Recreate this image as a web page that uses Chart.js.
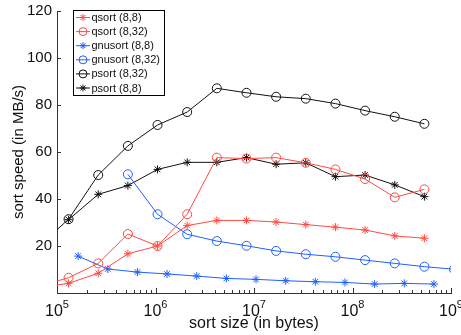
<!DOCTYPE html>
<html lang="en">
<head>
    <meta charset="UTF-8">
    <title>sort speed vs sort size</title>
    <script src="https://cdn.jsdelivr.net/npm/chart.js@4.4.1/dist/chart.umd.min.js"></script>
    <style>
        html, body { margin: 0; padding: 0; background: #fff; }
        #wrap { width: 461px; height: 335px; }
    </style>
</head>
<body>
    <div id="wrap"><canvas id="sortChart" width="461" height="335"></canvas></div>

    <script>
        // sizes are powers of two, 2^16 .. 2^30 (the ends fall outside the axis and get clipped)
        const sizes = [65536, 131072, 262144, 524288, 1048576, 2097152, 4194304, 8388608,
                       16777216, 33554432, 67108864, 134217728, 268435456, 536870912, 1073741824];
        // gnusort (8,8) was run at 10 * 2^14 .. 10 * 2^26
        const gnuSizes = [163840, 327680, 655360, 1310720, 2621440, 5242880, 10485760, 20971520,
                          41943040, 83886080, 167772160, 335544320, 671088640];

        const qsort88     = [2.3, 4.1, 8.4, 16.7, 20.0, 28.7, 30.9, 30.9, 30.2, 29.1, 28.0, 26.8, 24.3, 23.3, null];
        const qsort832    = [2.9, 6.5, 12.6, 25.1, 20.0, 33.5, 57.6, 57.2, 57.6, 55.4, 52.6, 48.5, 40.7, 44.1, null];
        const gnusort88   = [15.7, 10.2, 8.9, 8.1, 7.2, 6.2, 5.8, 5.2, 4.8, 4.5, 3.8, 4.1, 3.8];
        const gnusort832  = [null, null, null, 50.5, 33.5, 25.0, 22.1, 20.1, 17.9, 16.5, 15.4, 14.0, 12.6, 11.2, 10.1];
        const psort832    = [20.0, 31.4, 50.2, 62.6, 71.5, 77.0, 87.1, 85.2, 83.5, 82.7, 80.6, 77.6, 75.0, 72.0, null];
        const psort88     = [null, 31.2, 42.0, 45.7, 52.6, 55.6, 55.6, 57.6, 54.8, 55.4, 49.5, 50.2, 46.0, 41.0, null];

        const xDecades = [1e5, 1e6, 1e7, 1e8, 1e9];
        const yTicks = [0, 20, 40, 60, 80, 100, 120];

        const RED = '#ff4a42';
        const BLUE = '#1f5fff';
        const BLACK = '#111';
        const FONT = '"Liberation Sans", Arial, Helvetica, sans-serif';

        function pts(xs, ys) {
            return xs.map((x, i) => ({ x: x, y: ys[i] })).filter(p => p.y !== null && p.y !== undefined);
        }

        function series(label, xs, ys, color, style) {
            return {
                label: label,
                data: pts(xs, ys),
                showLine: true,
                borderColor: color,
                borderWidth: 1,
                pointStyle: style,
                pointRadius: style === 'circle' ? 4.5 : 4,
                pointBorderColor: color,
                pointBackgroundColor: 'rgba(0,0,0,0)',
                pointBorderWidth: 1,
                clip: 0
            };
        }

        const datasets = [
            series('qsort (8,8)', sizes, qsort88, RED, 'star'),
            series('qsort (8,32)', sizes, qsort832, RED, 'circle'),
            series('gnusort (8,8)', gnuSizes, gnusort88, BLUE, 'star'),
            series('gnusort (8,32)', sizes, gnusort832, BLUE, 'circle'),
            series('psort (8,32)', sizes, psort832, BLACK, 'circle'),
            series('psort (8,8)', sizes, psort88, BLACK, 'star')
        ];

        function drawMarker(ctx, style, x, y, r) {
            ctx.beginPath();
            if (style === 'circle') {
                ctx.arc(x, y, r, 0, Math.PI * 2);
            } else {
                const d = r * Math.SQRT1_2;
                ctx.moveTo(x - r, y); ctx.lineTo(x + r, y);
                ctx.moveTo(x, y - r); ctx.lineTo(x, y + r);
                ctx.moveTo(x - d, y - d); ctx.lineTo(x + d, y + d);
                ctx.moveTo(x - d, y + d); ctx.lineTo(x + d, y - d);
            }
            ctx.stroke();
        }

        // inward tick marks, 10^n labels and the boxed legend, matlab style
        const matlabBits = {
            id: 'matlabBits',
            afterDraw(chart) {
                const ctx = chart.ctx;
                const xs = chart.scales.x, ys = chart.scales.y;
                const area = chart.chartArea;
                ctx.save();
                ctx.strokeStyle = '#333';
                ctx.lineWidth = 1;
                ctx.beginPath();
                xs.ticks.forEach(t => {
                    const px = Math.round(xs.getPixelForValue(t.value)) + 0.5;
                    const len = t.major ? 5 : 3;
                    ctx.moveTo(px, area.bottom);
                    ctx.lineTo(px, area.bottom - len);
                });
                yTicks.forEach(v => {
                    const py = Math.round(ys.getPixelForValue(v)) + 0.5;
                    ctx.moveTo(area.left, py);
                    ctx.lineTo(area.left + 4, py);
                });
                ctx.stroke();

                // 10^n tick labels
                ctx.fillStyle = '#111';
                ctx.textBaseline = 'alphabetic';
                xDecades.forEach(v => {
                    const px = xs.getPixelForValue(v);
                    const exp = String(Math.round(Math.log10(v)));
                    ctx.font = '16px ' + FONT;
                    const wb = ctx.measureText('10').width;
                    ctx.font = '11px ' + FONT;
                    const we = ctx.measureText(exp).width;
                    const x0 = px - (wb + we) / 2;
                    ctx.font = '16px ' + FONT;
                    ctx.textAlign = 'left';
                    ctx.fillText('10', x0, 315.5);
                    ctx.font = '11px ' + FONT;
                    ctx.fillText(exp, x0 + wb, 308);
                });

                // legend
                const box = { l: 73.5, t: 10.5, r: 164.5, b: 95.5 };
                ctx.fillStyle = '#fff';
                ctx.fillRect(box.l, box.t, box.r - box.l, box.b - box.t);
                ctx.strokeStyle = '#000';
                ctx.strokeRect(box.l, box.t, box.r - box.l, box.b - box.t);
                ctx.font = '11px ' + FONT;
                ctx.textBaseline = 'middle';
                ctx.textAlign = 'left';
                chart.data.datasets.forEach((ds, i) => {
                    const cy = 17.5 + i * 14.1;
                    ctx.strokeStyle = ds.borderColor;
                    ctx.beginPath();
                    ctx.moveTo(76, cy); ctx.lineTo(90, cy);
                    ctx.stroke();
                    drawMarker(ctx, ds.pointStyle, 83, cy, ds.pointStyle === 'circle' ? 4 : 3.5);
                    ctx.fillStyle = '#111';
                    ctx.fillText(ds.label, 91.5, cy + 0.5);
                });
                ctx.restore();
            }
        };

        new Chart(document.getElementById('sortChart'), {
            type: 'scatter',
            data: { datasets: datasets },
            options: {
                responsive: false,
                animation: false,
                events: [],
                layout: { padding: { left: 0, right: 10, top: 11, bottom: 0 } },
                plugins: { legend: { display: false }, tooltip: { enabled: false } },
                scales: {
                    x: {
                        type: 'logarithmic',
                        min: 1e5,
                        max: 1e9,
                        grid: { display: false, drawTicks: false },
                        border: { display: true, color: '#333', width: 1 },
                        ticks: { display: false },
                        afterBuildTicks(scale) {
                            const t = [];
                            for (let e = 5; e <= 9; e++) {
                                for (let m = 1; m <= 9; m++) {
                                    const v = m * Math.pow(10, e);
                                    if (v > 1e9) break;
                                    t.push({ value: v, major: m === 1 });
                                }
                            }
                            scale.ticks = t;
                        },
                        afterFit(scale) {
                            scale.height = 42;
                            scale.paddingLeft = 0;
                            scale.paddingRight = 0;
                        },
                        title: {
                            display: true,
                            text: 'sort size (in bytes)',
                            color: '#111',
                            font: { family: FONT, size: 16 },
                            padding: { top: 0, bottom: 1.5 }
                        }
                    },
                    y: {
                        min: 0,
                        max: 120,
                        grid: { display: false, drawTicks: false },
                        border: { display: true, color: '#333', width: 1 },
                        afterBuildTicks(scale) {
                            scale.ticks = yTicks.map(v => ({ value: v }));
                        },
                        ticks: {
                            padding: 5,
                            color: '#111',
                            font: { family: FONT, size: 15 },
                            callback: v => (v === 0 ? '' : String(v))
                        },
                        afterFit(scale) {
                            scale.width = 57;
                            scale.paddingTop = 0;
                            scale.paddingBottom = 0;
                        },
                        title: {
                            display: true,
                            text: 'sort speed (in MB/s)',
                            color: '#111',
                            font: { family: FONT, size: 15 },
                            padding: { top: 10, bottom: 0 }
                        }
                    }
                }
            },
            plugins: [matlabBits]
        });
    </script>
</body>
</html>
